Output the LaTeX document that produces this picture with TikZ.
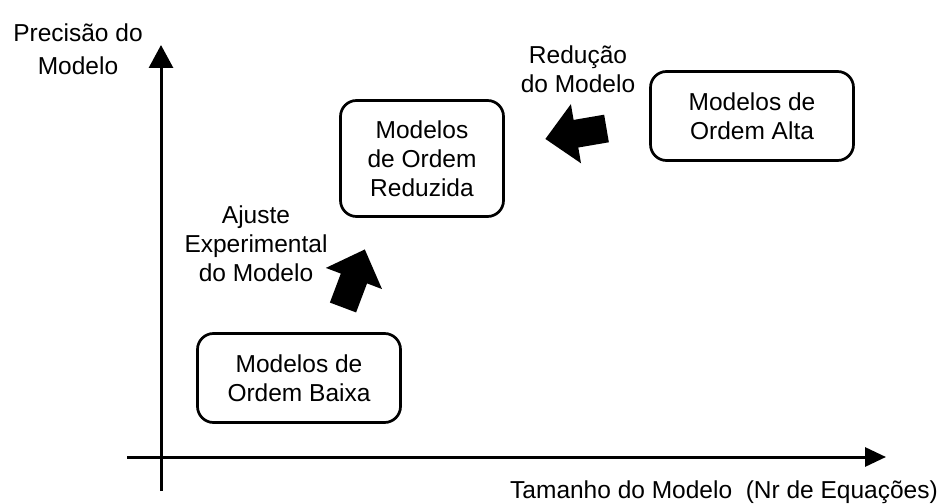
\documentclass[tikz,border=0pt]{standalone}
\usepackage{fontspec}
\setmainfont{Liberation Sans}
\usetikzlibrary{arrows.meta}
\begin{document}
\begin{tikzpicture}[x=1pt,y=1pt,
  lbl/.style={font=\fontsize{24.5}{29}\selectfont, align=center, inner sep=0pt, text=black},
  modelbox/.style={lbl, draw, line width=2.7pt, rounded corners=16pt},
  axis/.style={line width=3pt},
  fatarrow/.pic={\fill[black] (0,-14) -- (31,-14) -- (31,-30) -- (62,0) -- (31,30) -- (31,14) -- (0,14) -- cycle;}]
\useasboundingbox (0,0) rectangle (952,503);
% axes
\coordinate (yb) at (161,12);
\coordinate (yt) at (161,458);
\coordinate (xl) at (127,46);
\coordinate (xr) at (886,46);
\draw[axis, -{Triangle[length=23pt,width=24pt]}] (yb) -- (yt);
\draw[axis, -{Triangle[length=21pt,width=19pt]}] (xl) -- (xr);
% boxes
\node[modelbox, minimum width=203pt, minimum height=89pt] (baixa) at (299,125) {Modelos de\\Ordem Baixa};
\node[modelbox, minimum width=163pt, minimum height=116pt] (reduz) at (422,344.5) {Modelos\\de Ordem\\Reduzida};
\node[modelbox, minimum width=203pt, minimum height=89pt] (alta) at (752,387) {Modelos de\\Ordem Alta};
% labels
\node[lbl] (ylab) at (78,454) {Precisão do\\[4pt]Modelo};
\node[lbl] (red) at (578,434) {Redução\\do Modelo};
\node[lbl] (aju) at (256,259) {Ajuste\\Experimental\\do Modelo};
\node[lbl, anchor=base] (xlab) at (724,5) {Tamanho do Modelo\ \ (Nr de Equações)};
% fat arrows
\pic[rotate=69.4] at (343,195.5) {fatarrow};
\pic[rotate=189.7] at (606.5,374.5) {fatarrow};
\end{tikzpicture}
\end{document}
